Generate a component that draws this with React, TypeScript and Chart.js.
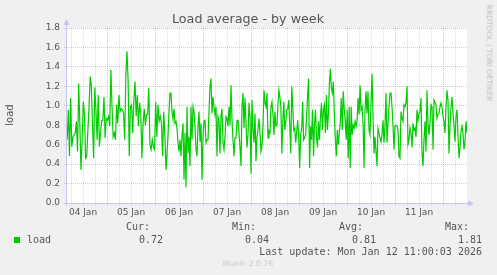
import { useEffect, useRef } from 'react';
import { Chart, registerables } from 'chart.js';

Chart.register(...registerables);

// Load samples, one array per ~50-hour window (hours since 04 Jan 00:00)
const windowStartHours = [4.1, 54.5, 104.5, 154.5];
const windowLengthHours = 50;

const loadWindow1 = [
  0.65, 0.96, 0.48, 1.08, 0.58, 0.68, 0.70, 0.72, 0.84, 0.53, 1.23, 0.82, 0.34, 0.65, 1.04, 0.92, 0.46, 0.48,
  0.75, 0.99, 1.30, 1.21, 0.82, 0.46, 1.19, 0.96, 0.65, 1.11, 0.58, 0.72, 0.85, 0.85, 1.09, 0.67, 0.87, 0.85,
  0.89, 0.79, 1.37, 0.99, 0.68, 0.72, 0.65, 1.01, 0.82, 1.11, 0.94, 0.97, 0.96, 0.92, 0.65, 1.30, 1.56, 1.26,
  0.48, 0.99, 1.01, 0.72, 1.06, 1.25, 0.89, 1.11, 0.79, 1.03, 0.92, 0.46, 0.82, 0.97, 0.80, 0.91, 0.91, 1.18,
  0.60, 0.55, 0.65, 0.58, 0.55, 1.04, 0.68, 1.01, 0.84, 0.89, 0.82, 0.48, 0.94, 0.68, 0.34,
];
const loadWindow2 = [
  0.68, 0.94, 1.13, 1.13, 0.94, 0.86, 0.97, 0.82, 0.84, 0.77, 0.62, 0.53, 0.65, 0.48, 0.70, 0.82, 0.24, 0.72,
  0.16, 0.99, 0.51, 0.68, 0.38, 0.99, 0.65, 0.99, 0.94, 0.79, 0.55, 0.48, 0.79, 0.94, 0.63, 0.82, 0.24, 0.68,
  0.84, 0.85, 0.62, 0.65, 0.65, 0.94, 1.20, 1.28, 0.92, 1.09, 0.99, 0.91, 0.99, 0.48, 0.89, 0.85, 0.51, 0.89,
  0.97, 0.62, 0.55, 0.68, 0.89, 0.87, 0.79, 0.99, 0.80, 1.21, 0.85, 0.65, 0.48, 0.67, 0.67, 0.85, 0.85, 0.72,
  0.58, 0.38, 0.99, 1.13, 0.77, 1.08, 0.82, 0.57, 0.70, 1.03, 0.89, 0.30, 1.06, 0.77, 0.62, 0.92, 0.43, 0.68,
  0.75, 0.87, 0.72, 0.53, 0.58, 0.80, 1.16, 1.03, 0.99, 1.13,
];
const loadWindow3 = [
  0.67, 0.74, 0.72, 0.99, 1.04, 0.91, 0.70, 0.94, 0.79, 0.80, 0.99, 1.16, 1.09, 0.99, 0.51, 0.85, 1.04, 0.75,
  0.84, 0.96, 0.97, 1.06, 0.79, 0.51, 1.20, 0.99, 0.75, 0.77, 0.62, 0.74, 0.85, 0.68, 0.36, 0.72, 0.75, 1.04,
  0.65, 0.67, 0.70, 0.89, 1.11, 1.28, 0.36, 0.79, 0.65, 0.96, 0.48, 0.82, 0.96, 0.68, 0.57, 0.84, 0.65, 0.89,
  1.03, 0.75, 0.96, 1.01, 0.72, 1.11, 0.75, 0.91, 1.23, 1.38, 1.18, 1.13, 1.25, 0.92, 0.65, 0.48, 0.75, 0.60,
  0.72, 0.82, 1.08, 0.75, 1.15, 0.97, 0.84, 0.65, 0.96, 0.46, 0.99, 0.36, 0.99, 0.70, 0.80, 0.77, 0.84, 0.79,
  0.85, 1.08, 0.91, 1.21, 0.96, 0.99, 0.82, 0.36, 0.96, 1.15, 0.92,
];
const loadWindow4 = [
  1.15, 0.75, 0.70, 1.03, 1.33, 0.89, 0.51, 0.68, 0.53, 0.38, 0.77, 0.72, 0.67, 0.63, 0.70, 0.85, 0.62, 0.80,
  1.13, 0.62, 0.82, 0.99, 1.13, 1.13, 0.99, 0.80, 0.55, 0.79, 0.80, 0.79, 0.75, 0.48, 0.46, 0.94, 0.87, 0.84,
  1.01, 0.99, 1.03, 1.20, 0.60, 0.65, 0.77, 0.72, 0.57, 0.82, 0.75, 0.77, 0.68, 0.96, 0.85, 0.92, 0.94, 1.08,
  0.51, 0.38, 0.65, 0.84, 0.53, 1.16, 0.82, 0.70, 0.82, 1.01, 0.99, 0.55, 1.06, 1.04, 1.01, 0.87, 0.91, 0.92,
  0.99, 1.03, 0.99, 0.89, 0.84, 0.72, 0.99, 1.16, 1.06, 0.51, 0.79, 0.99, 1.09, 0.92, 0.80, 0.63, 0.89, 0.96,
  0.70, 0.46, 0.58, 0.74, 0.79, 0.72, 0.55, 0.63, 0.84, 0.72,
];
const loadWindows = [loadWindow1, loadWindow2, loadWindow3, loadWindow4];

const xMinHours = 4;
const xMaxHours = 204;
const dayLabels = ['04 Jan', '05 Jan', '06 Jan', '07 Jan', '08 Jan', '09 Jan', '10 Jan', '11 Jan'];
const yMax = 1.8;

const legendName = 'load';
const statLabels = ['Cur:', 'Min:', 'Avg:', 'Max:'];
const statValues = ['0.72', '0.04', '0.81', '1.81'];
const lastUpdate = 'Last update: Mon Jan 12 11:00:03 2026';
const titleText = 'Load average - by week';

const GREEN = '#00cc00';
const RED_GRID = 'rgba(225,100,100,0.45)';
const GRAY_GRID = '#dadada';
const AXIS = '#c4c4f2';
const TEXT = '#555555';

const axisPlugin = {
  id: 'rrdAxes',
  beforeDraw(chart: any) {
    const { ctx, chartArea } = chart;
    ctx.save();
    ctx.fillStyle = '#ffffff';
    ctx.fillRect(chartArea.left, chartArea.top, chartArea.right - chartArea.left, chartArea.bottom - chartArea.top);
    ctx.restore();
  },
  afterDraw(chart: any) {
    const { ctx, chartArea } = chart;
    const l = chartArea.left - 0.5;
    const b = chartArea.bottom + 0.5;
    ctx.save();
    ctx.strokeStyle = AXIS;
    ctx.fillStyle = AXIS;
    ctx.lineWidth = 1;
    ctx.beginPath();
    ctx.moveTo(l, b + 2);
    ctx.lineTo(l, chartArea.top - 4);
    ctx.moveTo(l - 2, b);
    ctx.lineTo(chartArea.right + 2, b);
    ctx.stroke();
    ctx.beginPath();
    ctx.moveTo(l - 3, chartArea.top - 3);
    ctx.lineTo(l + 3, chartArea.top - 3);
    ctx.lineTo(l, chartArea.top - 9);
    ctx.closePath();
    ctx.fill();
    ctx.beginPath();
    ctx.moveTo(chartArea.right + 1, b - 3);
    ctx.lineTo(chartArea.right + 1, b + 3);
    ctx.lineTo(chartArea.right + 7, b);
    ctx.closePath();
    ctx.fill();
    ctx.restore();
  },
};

export default function App() {
  const ref = useRef<HTMLCanvasElement>(null);

  useEffect(() => {
    document.body.style.margin = '0';
    const canvas = ref.current;
    if (!canvas) return;

    const points: { x: number; y: number }[] = [];
    loadWindows.forEach((win, w) => {
      const step = windowLengthHours / win.length;
      win.forEach((v, i) => points.push({ x: windowStartHours[w] + i * step, y: v }));
    });

    const xGridColor = (c: any) => (c.tick && c.tick.value % 24 === 0 ? RED_GRID : GRAY_GRID);
    const yGridColor = (c: any) => (c.tick && Math.round(c.tick.value * 10) % 2 === 0 ? RED_GRID : GRAY_GRID);

    const chart = new Chart(canvas, {
      type: 'line',
      data: {
        datasets: [
          {
            label: legendName,
            data: points,
            borderColor: GREEN,
            borderWidth: 1.2,
            pointRadius: 0,
            tension: 0,
            fill: false,
          },
        ],
      },
      options: {
        animation: false,
        responsive: false,
        devicePixelRatio: 1,
        events: [],
        layout: { padding: { left: 0, right: 30, top: 28, bottom: 52 } },
        plugins: { legend: { display: false }, title: { display: false }, tooltip: { enabled: false } },
        scales: {
          x: {
            type: 'linear',
            min: xMinHours,
            max: xMaxHours,
            afterFit(scale: any) {
              scale.height = 20;
            },
            afterBuildTicks(scale: any) {
              const ticks = [];
              for (let h = 6; h < xMaxHours; h += 6) ticks.push({ value: h });
              scale.ticks = ticks;
            },
            grid: {
              drawTicks: true,
              tickLength: 3,
              tickBorderDash: [1, 1],
              lineWidth: 1,
              color: xGridColor,
              tickColor: xGridColor,
            },
            border: { display: false, dash: [1, 1] },
            ticks: {
              autoSkip: false,
              maxRotation: 0,
              padding: 1,
              color: TEXT,
              font: { family: 'DejaVu Sans', size: 9 },
              callback: (v: any) => {
                const h = Number(v);
                if ((h - 12) % 24 !== 0) return '';
                return dayLabels[(h - 12) / 24] ?? '';
              },
            },
          },
          y: {
            min: 0,
            max: yMax,
            afterFit(scale: any) {
              scale.width = 67;
            },
            afterBuildTicks(scale: any) {
              const ticks = [];
              for (let i = 0; i <= Math.round(yMax * 10); i++) ticks.push({ value: i / 10 });
              scale.ticks = ticks;
            },
            grid: {
              drawTicks: true,
              tickLength: 3,
              tickBorderDash: [1, 1],
              lineWidth: 1,
              color: yGridColor,
              tickColor: yGridColor,
            },
            border: { display: false, dash: [1, 1] },
            ticks: {
              padding: 4,
              color: TEXT,
              font: { family: 'DejaVu Sans', size: 9 },
              callback: (v: any) => {
                const t = Math.round(Number(v) * 10);
                return t % 2 === 0 ? (t / 10).toFixed(1) : '';
              },
            },
          },
        },
      },
      plugins: [axisPlugin],
    });
    return () => chart.destroy();
  }, []);

  const mono = "'DejaVu Sans Mono', monospace";
  const abs = (left: number, top: number, extra: any = {}) => ({
    position: 'absolute' as const,
    left,
    top,
    whiteSpace: 'nowrap' as const,
    lineHeight: 1,
    ...extra,
  });
  const statRight = [163, 269, 376, 482];

  return (
    <div
      style={{
        position: 'relative',
        width: 497,
        height: 275,
        background: '#f0f0f0',
        overflow: 'hidden',
        fontFamily: "'DejaVu Sans', sans-serif",
        color: TEXT,
      }}
    >
      <canvas ref={ref} width={497} height={275} style={{ position: 'absolute', left: 0, top: 0, width: 497, height: 275 }} />
      <div style={abs(248, 19, { fontSize: 12.7, transform: 'translate(-50%,-50%)' })}>{titleText}</div>
      <div style={abs(10, 115, { fontSize: 10, transform: 'translate(-50%,-50%) rotate(-90deg)' })}>{legendName}</div>
      <div
        style={abs(489, 53, {
          fontSize: 7.5,
          color: '#bcbcbc',
          transform: 'translate(-50%,-50%) rotate(90deg)',
        })}
      >
        RRDTOOL / TOBI OETIKER
      </div>
      <div style={abs(14, 237, { width: 6, height: 6, background: GREEN })} />
      <div style={abs(27, 240, { fontFamily: mono, fontSize: 10, transform: 'translateY(-50%)' })}>{legendName}</div>
      {statLabels.map((s, i) => (
        <div key={s} style={abs(statRight[i] - 13, 227, { fontFamily: mono, fontSize: 10, transform: 'translate(-100%,-50%)' })}>
          {s}
        </div>
      ))}
      {statValues.map((s, i) => (
        <div key={i} style={abs(statRight[i], 240, { fontFamily: mono, fontSize: 10, transform: 'translate(-100%,-50%)' })}>
          {s}
        </div>
      ))}
      <div style={abs(482, 252, { fontFamily: mono, fontSize: 10, transform: 'translate(-100%,-50%)' })}>{lastUpdate}</div>
      <div style={abs(248, 264, { fontSize: 7.7, color: '#c8c8c8', transform: 'translate(-50%,-50%)' })}>Munin 2.0.76</div>
    </div>
  );
}
